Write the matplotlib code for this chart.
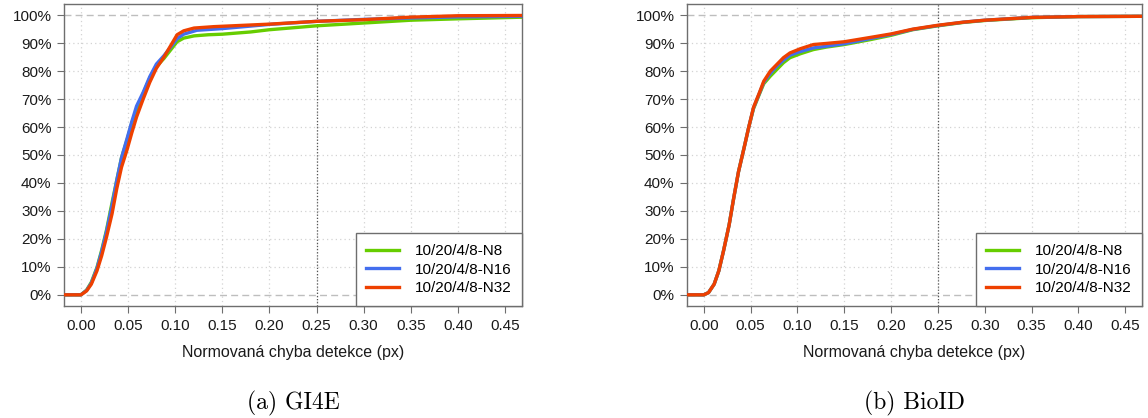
# ECDF of normalized detection error for GI4E and BioID, three network variants

import numpy as np
import matplotlib
matplotlib.use("Agg")
import matplotlib.pyplot as plt
from matplotlib.ticker import PercentFormatter

# ---- data (error vs. cumulative % of samples) ----
series_labels = ['10/20/4/8-N8', '10/20/4/8-N16', '10/20/4/8-N32']
panel_captions = ['(a) GI4E', '(b) BioID']
x_ticks = [0.00, 0.05, 0.10, 0.15, 0.20, 0.25, 0.30, 0.35, 0.40, 0.45]
y_ticks = [0.0, 0.1, 0.2, 0.3, 0.4, 0.5, 0.6, 0.7, 0.8, 0.9, 1.0]

# GI4E
gi4e_n8_x = [-0.02, 0.0, 0.006, 0.011, 0.017, 0.022, 0.027, 0.033, 0.038, 0.043, 0.049, 0.054, 0.059,
             0.066, 0.073, 0.080, 0.088, 0.095, 0.102, 0.109, 0.12, 0.135, 0.15, 0.18, 0.20, 0.25,
             0.30, 0.35, 0.40, 0.47]
gi4e_n8_y = [0, 0, 1.7, 4.5, 9.8, 16, 23, 33, 41, 49, 55.5, 61.5, 66,
             72, 77.5, 81.6, 84.5, 87.5, 90.5, 91.8, 92.6, 93.0, 93.2, 94.0, 94.8, 96.2,
             97.2, 98.2, 98.7, 99.3]

gi4e_n16_x = [-0.02, 0.0, 0.006, 0.011, 0.017, 0.022, 0.027, 0.033, 0.038, 0.043, 0.049, 0.054, 0.059,
              0.066, 0.073, 0.080, 0.088, 0.095, 0.102, 0.109, 0.123, 0.15, 0.20, 0.25, 0.30, 0.35,
              0.40, 0.47]
gi4e_n16_y = [0, 0, 1.6, 4.2, 9.5, 15.5, 22.5, 32, 41, 49, 56, 62, 67.5,
              72.4, 78, 82.5, 85.5, 88.5, 91.6, 93.2, 94.6, 95.2, 96.7, 97.8, 98.5, 99.0,
              99.4, 99.6]

gi4e_n32_x = [-0.02, 0.0, 0.006, 0.011, 0.017, 0.022, 0.027, 0.033, 0.038, 0.043, 0.049, 0.054, 0.059,
              0.066, 0.073, 0.080, 0.088, 0.095, 0.102, 0.109, 0.120, 0.141, 0.20, 0.25, 0.30, 0.35,
              0.40, 0.47]
gi4e_n32_y = [0, 0, 1.4, 3.8, 8.6, 14, 20.5, 29, 38, 45.6, 52, 58, 63.6,
              70, 76, 81, 85, 89, 93, 94.4, 95.4, 95.9, 96.8, 97.8, 98.4, 99.3,
              99.8, 99.9]

# BioID
bioid_x = [-0.02, 0.0, 0.005, 0.011, 0.016, 0.021, 0.027, 0.032, 0.037, 0.043, 0.048, 0.053, 0.059,
           0.064, 0.071, 0.078, 0.085, 0.092, 0.103, 0.117, 0.131, 0.15, 0.177, 0.20, 0.223, 0.25,
           0.277, 0.30, 0.35, 0.40, 0.47]
bioid_n8_y = [0, 0, 0.8, 3.8, 8.6, 15.7, 25, 34.8, 44, 52.6, 60, 66.5, 71.5,
              75.5, 78.2, 80.6, 83.0, 84.8, 86.2, 87.7, 88.6, 89.5, 91.2, 92.8, 94.8, 96.2,
              97.4, 98.1, 99.1, 99.5, 99.6]
bioid_n16_y = [0, 0, 0.8, 3.8, 8.6, 15.7, 25, 34.8, 44, 52.6, 60, 66.8, 71.8,
               76.0, 79.2, 81.8, 83.9, 85.7, 87.0, 88.3, 88.9, 89.8, 91.6, 93.1, 94.9, 96.3,
               97.5, 98.2, 99.2, 99.5, 99.6]
bioid_n32_y = [0, 0, 0.8, 3.8, 8.6, 15.7, 25, 34.8, 44, 52.6, 60, 67, 72,
               76.4, 80, 82.4, 84.8, 86.5, 88, 89.5, 89.9, 90.5, 92, 93.3, 95.0, 96.4,
               97.5, 98.2, 99.2, 99.5, 99.6]

panels = [
    [(gi4e_n8_x, gi4e_n8_y), (gi4e_n16_x, gi4e_n16_y), (gi4e_n32_x, gi4e_n32_y)],
    [(bioid_x, bioid_n8_y), (bioid_x, bioid_n16_y), (bioid_x, bioid_n32_y)],
]

# ---- style ----
colors = ['#66CD00', '#436EEE', '#EE4000']
frame_color = '#6E6E6E'
plt.rcParams['font.family'] = ['Liberation Sans', 'DejaVu Sans']

fig = plt.figure(figsize=(11.48, 4.18), dpi=100)
W, H = 1148.0, 418.0
axes_boxes = [
    [64 / W, 1 - 306 / H, 458 / W, 302 / H],
    [687 / W, 1 - 306 / H, 455 / W, 302 / H],
]

for box, curves, caption in zip(axes_boxes, panels, panel_captions):
    ax = fig.add_axes(box)

    # grid: dotted light gray, dashed lines at 0% and 100%, dark dotted at 0.25
    for xv in x_ticks:
        ax.axvline(xv, color='#D3D3D3', lw=0.9, ls=(0, (1, 2.5)), zorder=0)
    for yv in y_ticks[1:-1]:
        ax.axhline(yv, color='#D3D3D3', lw=0.9, ls=(0, (1, 2.5)), zorder=0)
    for yv in (0.0, 1.0):
        ax.axhline(yv, color='#BEBEBE', lw=1.0, ls=(0, (5, 3)), zorder=0)
    ax.axvline(0.25, color='#555555', lw=0.9, ls=(0, (1, 1.5)), zorder=1)

    for (xs, ys), col, lab in zip(curves, colors, series_labels):
        ax.plot(xs, np.array(ys) / 100.0, color=col, lw=2.4, label=lab,
                solid_joinstyle='round', zorder=3)

    ax.set_xlim(-0.018, 0.468)
    ax.set_ylim(-0.04, 1.04)
    ax.set_xticks(x_ticks)
    ax.set_xticklabels(['%.2f' % v for v in x_ticks])
    ax.set_yticks(y_ticks)
    ax.yaxis.set_major_formatter(PercentFormatter(1.0, decimals=0))
    ax.tick_params(axis='both', labelsize=11, length=5, width=0.8, pad=4,
                   color=frame_color, labelcolor='#1A1A1A')
    for sp in ax.spines.values():
        sp.set_color(frame_color)
        sp.set_linewidth(1.0)

    leg = ax.legend(loc='lower right', fontsize=11, borderaxespad=0, fancybox=False,
                    framealpha=1, edgecolor=frame_color, handlelength=2.1,
                    handletextpad=1.05, labelspacing=0.3, borderpad=0.7)
    leg.get_frame().set_linewidth(1.0)
    leg.set_zorder(5)

    cx = box[0] + box[2] / 2
    fig.text(cx, 1 - 353 / H, 'Normovaná chyba detekce (px)', ha='center', va='center',
             fontsize=11.5, color='#1A1A1A')
    fig.text(cx, 1 - 403 / H, caption, ha='center', va='center', fontsize=17,
             family=['cmr10', 'DejaVu Serif'])

fig.savefig('out.png', dpi=100)
